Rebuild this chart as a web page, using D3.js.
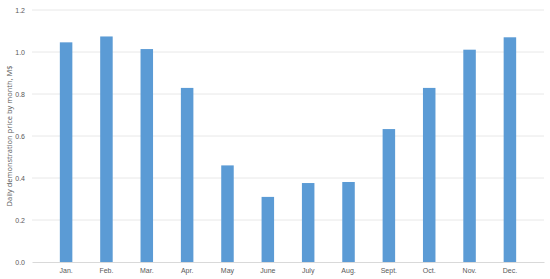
<!DOCTYPE html>
<html>
<head>
<meta charset="utf-8">
<script src="https://cdn.jsdelivr.net/npm/d3@7"></script>
<style>
  body { margin: 0; background: #fff; }
  svg { display: block; font-family: "Open Sans", "Liberation Sans", sans-serif; }
</style>
</head>
<body>
<svg id="chart" width="550" height="279"></svg>
<script>
const months = ["Jan.", "Feb.", "Mar.", "Apr.", "May", "June", "July", "Aug.", "Sept.", "Oct.", "Nov.", "Dec."];
const prices = [1.046, 1.074, 1.014, 0.829, 0.46, 0.31, 0.376, 0.381, 0.633, 0.829, 1.011, 1.07];
const yTicks = [0, 0.2, 0.4, 0.6, 0.8, 1.0, 1.2];

const svg = d3.select("#chart");
const margin = { top: 10, right: 6, bottom: 17, left: 32 };
const width = +svg.attr("width") - margin.left - margin.right;
const height = +svg.attr("height") - margin.top - margin.bottom;
const g = svg.append("g").attr("transform", `translate(${margin.left},${margin.top})`);

const x = d3.scaleBand().domain(months).range([0, width]).padding(0.69);
const y = d3.scaleLinear().domain([0, 1.2]).range([height, 0]);

// gridlines
g.selectAll(".grid")
    .data(yTicks.filter(d => d > 0))
    .enter().append("line")
    .attr("x1", 0)
    .attr("x2", width)
    .attr("y1", d => y(d))
    .attr("y2", d => y(d))
    .attr("stroke", "#e8e8e8")
    .attr("stroke-width", 1);

g.selectAll("rect")
    .data(prices)
    .enter().append("rect")
    .attr("x", (d, i) => x(months[i]))
    .attr("y", d => y(d))
    .attr("width", x.bandwidth())
    .attr("height", d => height - y(d))
    .attr("fill", "#5b9bd5");

// bottom axis
const xAxis = g.append("g")
    .attr("transform", `translate(0,${height})`)
    .call(d3.axisBottom(x).tickSize(0).tickPadding(6));
xAxis.select(".domain").attr("stroke", "#d9d9d9");
xAxis.selectAll("text").attr("fill", "#595959").attr("font-size", 7);

const yAxis = g.append("g")
    .call(d3.axisLeft(y).tickValues(yTicks).tickFormat(d3.format(".1f")).tickSize(0).tickPadding(7));
yAxis.select(".domain").remove();
yAxis.selectAll("text").attr("fill", "#595959").attr("font-size", 7);

svg.append("text")
    .attr("transform", `translate(12,${margin.top + height / 2}) rotate(-90)`)
    .attr("text-anchor", "middle")
    .attr("fill", "#595959")
    .attr("font-size", 7.5)
    .text("Daily demonstration price by month, M$");
</script>
</body>
</html>
